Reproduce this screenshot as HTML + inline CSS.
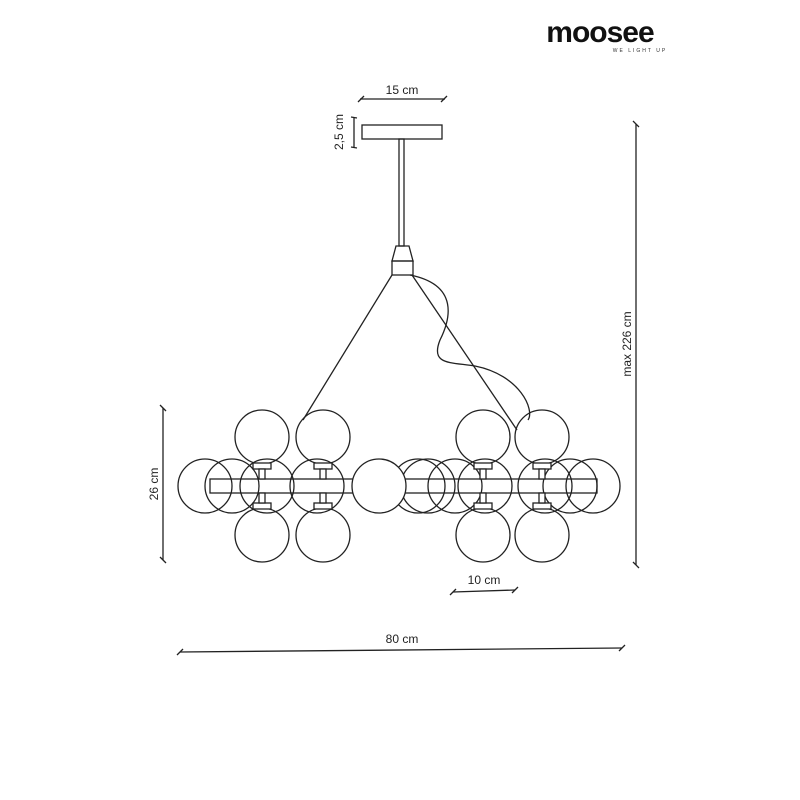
<!DOCTYPE html>
<html><head><style>body{margin:0;background:#fff}svg{display:block}</style></head><body>
<svg width="800" height="800" viewBox="0 0 800 800" xmlns="http://www.w3.org/2000/svg" font-family="Liberation Sans, sans-serif">
<g fill="none" stroke="#222" stroke-width="1.3">
<text x="600" y="42" font-size="30" font-weight="bold" text-anchor="middle" fill="#111" stroke="none" letter-spacing="-1">moosee</text>
<text x="640" y="52" font-size="5" text-anchor="middle" fill="#333" stroke="none" letter-spacing="2">WE LIGHT UP</text>
<line x1="360" y1="99" x2="445" y2="99"/><line x1="358" y1="102" x2="364" y2="96"/><line x1="441" y1="102" x2="447" y2="96"/>
<text x="402" y="94" font-size="12" text-anchor="middle" fill="#222" stroke="none">15 cm</text>
<line x1="354" y1="117" x2="354" y2="147"/><line x1="351" y1="117" x2="357" y2="118"/><line x1="351" y1="147" x2="357" y2="148"/>
<text transform="translate(343,132) rotate(-90)" font-size="12" text-anchor="middle" fill="#222" stroke="none">2,5 cm</text>
<line x1="636" y1="124" x2="636" y2="565"/><line x1="633" y1="121" x2="639" y2="127"/><line x1="633" y1="562" x2="639" y2="568"/>
<text transform="translate(631,344) rotate(-90)" font-size="12" text-anchor="middle" fill="#222" stroke="none">max 226 cm</text>
<line x1="163" y1="408" x2="163" y2="560"/><line x1="160" y1="405" x2="166" y2="411"/><line x1="160" y1="557" x2="166" y2="563"/>
<text transform="translate(158,484) rotate(-90)" font-size="12" text-anchor="middle" fill="#222" stroke="none">26 cm</text>
<line x1="180" y1="652" x2="622" y2="648"/><line x1="177" y1="655" x2="183" y2="649"/><line x1="619" y1="651" x2="625" y2="645"/>
<text x="402" y="643" font-size="12" text-anchor="middle" fill="#222" stroke="none">80 cm</text>
<line x1="453" y1="592" x2="515" y2="590"/><line x1="450" y1="595" x2="456" y2="589"/><line x1="512" y1="593" x2="518" y2="587"/>
<text x="484" y="584" font-size="12" text-anchor="middle" fill="#222" stroke="none">10 cm</text>
<rect x="362" y="125" width="80" height="14"/>
<rect x="399" y="139" width="5" height="107"/>
<path d="M396 246 L409 246 L413 261 L392 261 Z"/>
<rect x="392" y="261" width="21" height="14"/>
<path d="M392 275 L303 420"/>
<path d="M412 275 L517 430"/>
<path d="M410 275 C460 285 450 320 440 340 C430 365 450 362 475 366 C520 375 535 410 528 420"/>
<circle cx="205" cy="486" r="27"/>
<circle cx="267" cy="486" r="27"/>
<circle cx="317" cy="486" r="27"/>
<circle cx="418" cy="486" r="27"/>
<circle cx="428" cy="486" r="27"/>
<circle cx="455" cy="486" r="27"/>
<circle cx="485" cy="486" r="27"/>
<circle cx="545" cy="486" r="27"/>
<circle cx="593" cy="486" r="27"/>
<circle cx="232" cy="486" r="27"/>
<circle cx="570" cy="486" r="27"/>
<rect x="210" y="479" width="387" height="14"/>
<circle cx="379" cy="486" r="27" fill="#fff"/>
<circle cx="262" cy="437" r="27"/><circle cx="323" cy="437" r="27"/>
<circle cx="483" cy="437" r="27"/><circle cx="542" cy="437" r="27"/>
<circle cx="262" cy="535" r="27"/><circle cx="323" cy="535" r="27"/>
<circle cx="483" cy="535" r="27"/><circle cx="542" cy="535" r="27"/>
<g fill="#fff">
<rect x="253" y="463" width="18" height="6"/><rect x="259" y="469" width="6" height="10"/>
<rect x="253" y="503" width="18" height="6"/><rect x="259" y="493" width="6" height="10"/>
<rect x="314" y="463" width="18" height="6"/><rect x="320" y="469" width="6" height="10"/>
<rect x="314" y="503" width="18" height="6"/><rect x="320" y="493" width="6" height="10"/>
<rect x="474" y="463" width="18" height="6"/><rect x="480" y="469" width="6" height="10"/>
<rect x="474" y="503" width="18" height="6"/><rect x="480" y="493" width="6" height="10"/>
<rect x="533" y="463" width="18" height="6"/><rect x="539" y="469" width="6" height="10"/>
<rect x="533" y="503" width="18" height="6"/><rect x="539" y="493" width="6" height="10"/>
</g>
</g>
</svg>
</body></html>
